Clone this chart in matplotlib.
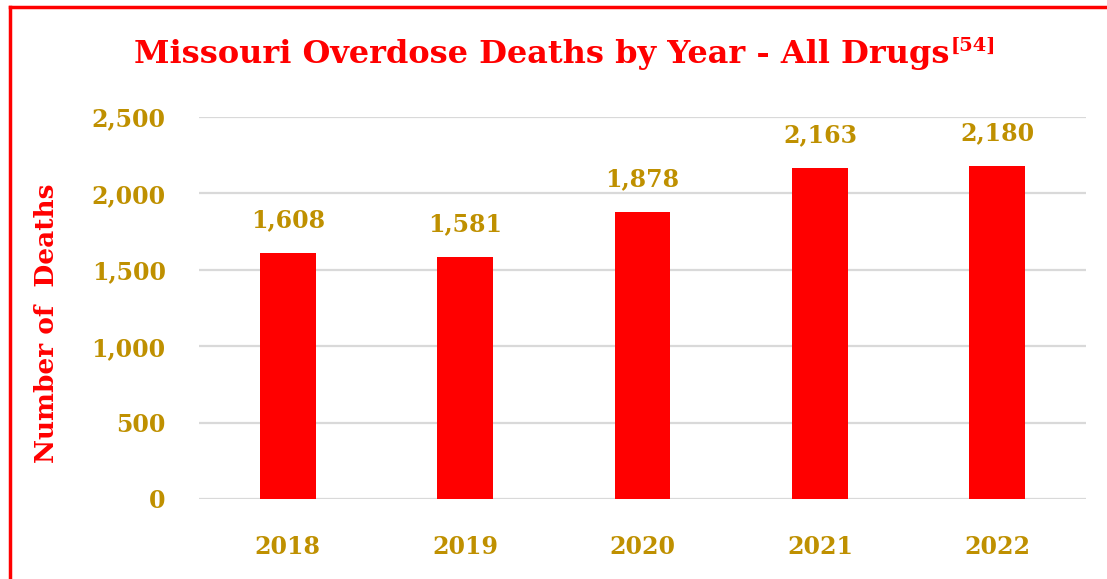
import matplotlib.pyplot as plt
from matplotlib.ticker import FuncFormatter

years = ["2018", "2019", "2020", "2021", "2022"]
deaths = [1608, 1581, 1878, 2163, 2180]
y_ticks = [0, 500, 1000, 1500, 2000, 2500]

RED = "#FF0000"
GOLD = "#BF9000"
plt.rcParams["font.family"] = ["DejaVu Serif"]
plt.rcParams["font.weight"] = "bold"
plt.rcParams["axes.labelweight"] = "bold"

fig = plt.figure(figsize=(11.07, 5.79), dpi=100)
ax = fig.add_axes([199 / 1107, 80 / 579, 887 / 1107, 382 / 579])

x = range(len(years))
bars = ax.bar(x, deaths, width=0.315, color=RED, zorder=3)

ax.set_xlim(-0.5, len(years) - 0.5)
ax.set_ylim(0, 2500)
ax.set_yticks(y_ticks)
ax.yaxis.set_major_formatter(FuncFormatter(lambda v, p: f"{int(v):,}"))
ax.set_xticks(list(x))
ax.set_xticklabels(years)
ax.grid(axis="y", color="#D9D9D9", linewidth=1.6, zorder=0)
ax.tick_params(length=0, labelsize=17, labelcolor=GOLD)
ax.tick_params(axis="y", pad=24)
ax.tick_params(axis="x", pad=26)
for s in ax.spines.values():
    s.set_visible(False)

# value labels above each bar
for b, v in zip(bars, deaths):
    ax.annotate(f"{v:,}", (b.get_x() + b.get_width() / 2, v),
                xytext=(0, 15), textcoords="offset points",
                ha="center", va="bottom", fontsize=17, color=GOLD)

ax.set_ylabel("Number of  Deaths", fontsize=19, color=RED, va="center")
ax.yaxis.set_label_coords(-152 / 887, 0.46)

title = fig.text(0.5 - 12 / 1107, 1 - 55 / 579, "Missouri Overdose Deaths by Year - All Drugs",
                 ha="center", va="center", fontsize=23, color=RED)
ax.annotate("[54]", xy=(1, 1), xycoords=title, xytext=(1, 2),
            textcoords="offset points", ha="left", va="top",
            fontsize=14, color=RED)

# chart frame (top and left edges)
fig.add_artist(plt.Line2D([10 / 1107, 10 / 1107], [0, 1 - 7 / 579],
                          transform=fig.transFigure, color=RED, linewidth=2.5))
fig.add_artist(plt.Line2D([10 / 1107, 1], [1 - 7 / 579, 1 - 7 / 579],
                          transform=fig.transFigure, color=RED, linewidth=2.5))

fig.savefig("out.png", dpi=100)
